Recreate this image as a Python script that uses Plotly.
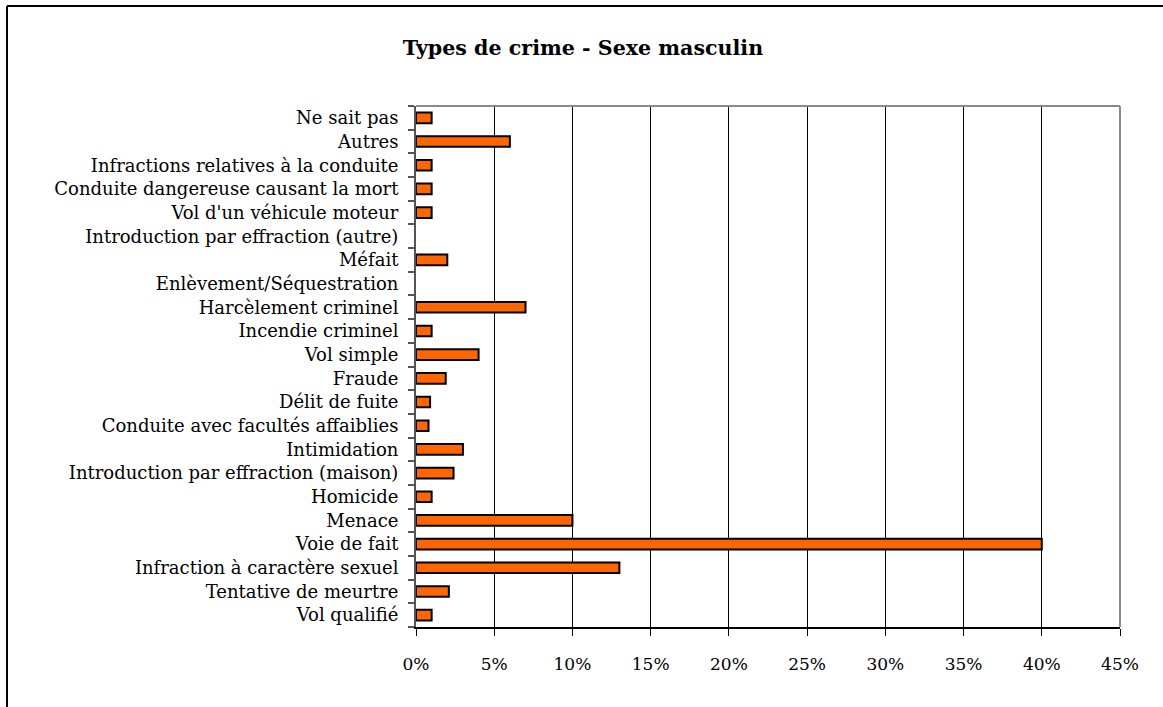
import plotly.graph_objects as go

# Crime categories, listed from the bottom of the chart to the top
categories = [
    "Vol qualifié",
    "Tentative de meurtre",
    "Infraction à caractère sexuel",
    "Voie de fait",
    "Menace",
    "Homicide",
    "Introduction par effraction (maison)",
    "Intimidation",
    "Conduite avec facultés affaiblies",
    "Délit de fuite",
    "Fraude",
    "Vol simple",
    "Incendie criminel",
    "Harcèlement criminel",
    "Enlèvement/Séquestration",
    "Méfait",
    "Introduction par effraction (autre)",
    "Vol d'un véhicule moteur",
    "Conduite dangereuse causant la mort",
    "Infractions relatives à la conduite",
    "Autres",
    "Ne sait pas",
]

# Share of male victims per crime type (%)
percentages = [
    1.0, 2.1, 13.0, 40.0, 10.0, 1.0, 2.4, 3.0, 0.8, 0.9, 1.9,
    4.0, 1.0, 7.0, 0.0, 2.0, 0.0, 1.0, 1.0, 1.0, 6.0, 1.0,
]

x_ticks = [0, 5, 10, 15, 20, 25, 30, 35, 40, 45]

SERIF = "DejaVu Serif, Liberation Serif, serif"

# empty categories get no outline so nothing is drawn for them
outline_widths = [2 if v > 0 else 0 for v in percentages]

fig = go.Figure(
    go.Bar(
        x=percentages,
        y=categories,
        orientation="h",
        marker=dict(color="#FF6600",
                    line=dict(color="#000000", width=outline_widths)),
        hoverinfo="skip",
    )
)

W, H = 1163, 707
L, R, T, B = 416, 43, 106, 80
pw, ph = W - L - R, H - T - B


def px_x(x):
    return (x - L) / pw


def px_y(y):
    return (H - B - y) / ph


shapes = [
    # outer frame (left and top edges visible)
    dict(type="line", xref="paper", yref="paper",
         x0=px_x(7), x1=px_x(7), y0=px_y(6), y1=px_y(720),
         line=dict(color="#000000", width=2)),
    dict(type="line", xref="paper", yref="paper",
         x0=px_x(7), x1=px_x(1180), y0=px_y(6), y1=px_y(6),
         line=dict(color="#000000", width=2)),
    # plot area top and right borders
    dict(type="line", xref="paper", yref="paper",
         x0=0, x1=1, y0=1, y1=1, line=dict(color="#8a8a8a", width=2)),
    dict(type="line", xref="paper", yref="paper",
         x0=1, x1=1, y0=0, y1=1, line=dict(color="#8a8a8a", width=2)),
]

fig.update_layout(
    width=W,
    height=H,
    margin=dict(l=L, r=R, t=T, b=B),
    paper_bgcolor="white",
    plot_bgcolor="white",
    showlegend=False,
    bargap=0.55,
    font=dict(family=SERIF, size=17, color="#000000"),
    title=dict(
        text="<b>Types de crime - Sexe masculin</b>",
        x=583 / W,
        xanchor="center",
        y=1 - 48 / H,
        yanchor="middle",
        font=dict(family=SERIF, size=20.6, color="#000000"),
    ),
    shapes=shapes,
    xaxis=dict(
        range=[0, 45],
        tickvals=x_ticks,
        ticktext=[f"{v}%" for v in x_ticks],
        showgrid=True,
        gridcolor="#000000",
        gridwidth=1,
        zeroline=False,
        showline=True,
        linecolor="#000000",
        linewidth=2,
        ticks="outside",
        ticklen=7,
        tickcolor="#000000",
        tickwidth=1,
        ticklabelstandoff=14,
        tickfont=dict(family=SERIF, size=17),
        fixedrange=True,
    ),
    yaxis=dict(
        type="category",
        categoryorder="array",
        categoryarray=categories,
        tickson="boundaries",
        showgrid=False,
        showline=True,
        linecolor="#555555",
        linewidth=2,
        ticks="outside",
        ticklen=6,
        tickcolor="#555555",
        tickwidth=2,
        ticklabelstandoff=12,
        tickfont=dict(family=SERIF, size=18),
        fixedrange=True,
    ),
)

fig.write_html("out.html")
